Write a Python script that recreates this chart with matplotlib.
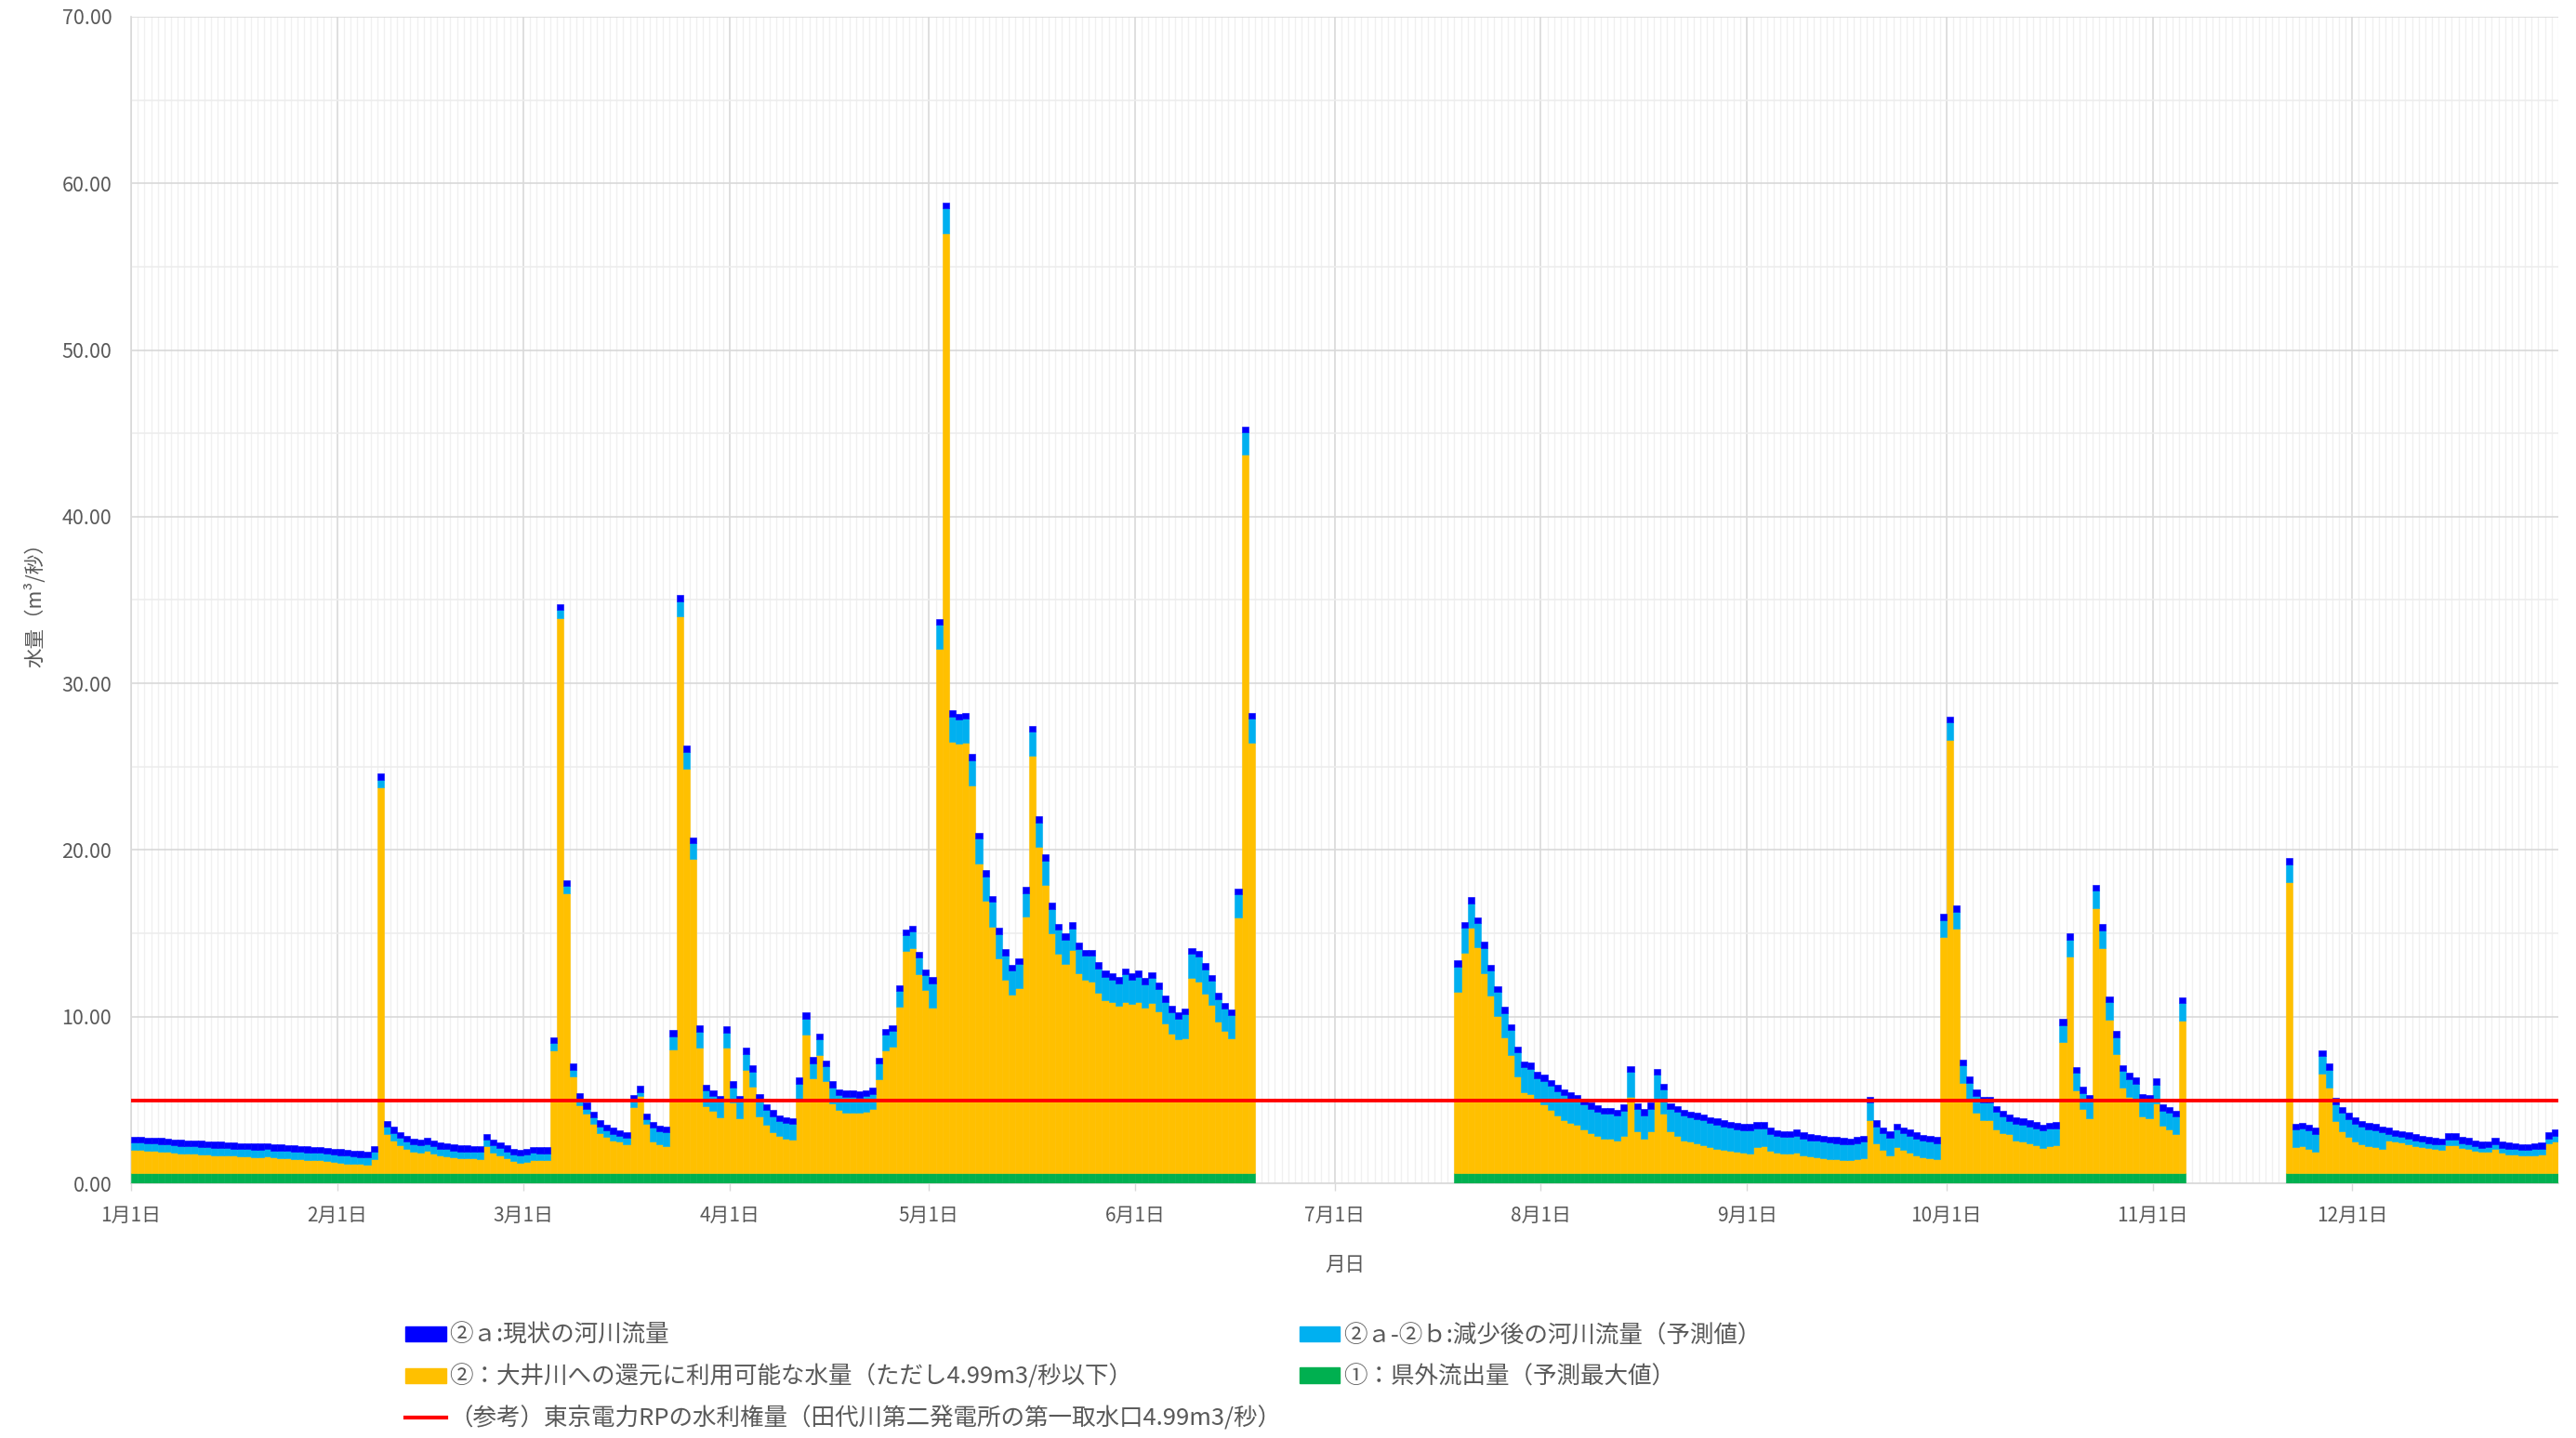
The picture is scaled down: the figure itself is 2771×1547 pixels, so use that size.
import numpy as np
import pandas as pd
import matplotlib
matplotlib.use("Agg")
import matplotlib.pyplot as plt
from matplotlib.patches import Patch
from matplotlib.lines import Line2D

plt.rcParams['font.family'] = ['Noto Sans CJK JP', 'DejaVu Sans']

# ---- data (m3/s) ----
# top of the whole stack (②a) and top of the orange part, per day
p1_start = '2023-01-01'   # 1/1 - 6/17
p1_total = [
    2.81, 2.79, 2.75, 2.74, 2.72, 2.68, 2.64, 2.60, 2.58, 2.57, 2.55, 2.51, 2.49, 2.49, 2.47, 2.45,
    2.42, 2.40, 2.38, 2.38, 2.40, 2.34, 2.32, 2.29, 2.27, 2.23, 2.21, 2.19, 2.18, 2.12, 2.08,
    2.04, 2.01, 1.97, 1.93, 1.90, 2.23, 24.58, 3.75, 3.38, 3.09, 2.87, 2.68, 2.63, 2.72, 2.59, 2.44,
    2.41, 2.32, 2.28, 2.28, 2.26, 2.23, 2.97, 2.63, 2.46, 2.28, 2.09, 2.03,
    2.07, 2.18, 2.16, 2.16, 8.76, 34.75, 18.20, 7.18, 5.43, 4.85, 4.30, 3.79, 3.52, 3.33, 3.20, 3.09,
    5.32, 5.84, 4.20, 3.70, 3.48, 3.42, 9.18, 35.30, 26.25, 20.77, 9.46, 5.93, 5.59, 5.27, 9.42,
    6.11, 5.25, 8.12, 7.08, 5.37, 4.77, 4.38, 4.10, 3.97, 3.92, 6.34, 10.24, 7.56, 9.00, 7.38, 6.11,
    5.65, 5.56, 5.56, 5.52, 5.59, 5.74, 7.54, 9.27, 9.50, 11.88, 15.23, 15.45, 13.89, 12.85,
    12.38, 33.87, 58.85, 28.37, 28.19, 28.25, 25.75, 21.03, 18.78, 17.24, 15.32, 14.05, 13.13, 13.50,
    17.79, 27.45, 22.02, 19.73, 16.82, 15.57, 15.00, 15.67, 14.42, 14.00, 14.00, 13.25, 12.75, 12.60,
    12.38, 12.90, 12.60,
    12.75, 12.30, 12.66, 12.04, 11.25, 10.63, 10.25, 10.50, 14.13, 13.95, 13.20, 12.50, 11.43, 10.83,
    10.45, 17.69, 45.40, 28.25,
]
p1_orange_top = [
    2.01, 1.99, 1.95, 1.94, 1.92, 1.88, 1.84, 1.80, 1.78, 1.77, 1.75, 1.71, 1.69, 1.69, 1.67, 1.65,
    1.62, 1.60, 1.58, 1.58, 1.60, 1.54, 1.52, 1.49, 1.47, 1.43, 1.41, 1.39, 1.38, 1.32, 1.28,
    1.22, 1.20, 1.17, 1.15, 1.13, 1.45, 23.78, 2.96, 2.58, 2.31, 2.08, 1.90, 1.85, 1.93, 1.80, 1.66,
    1.62, 1.54, 1.50, 1.50, 1.48, 1.45, 2.23, 1.85, 1.68, 1.50, 1.32, 1.25,
    1.30, 1.40, 1.38, 1.38, 7.98, 33.90, 17.40, 6.39, 4.68, 4.17, 3.55, 3.01, 2.77, 2.59, 2.49, 2.36,
    4.59, 5.22, 3.57, 2.52, 2.34, 2.25, 8.01, 34.00, 24.90, 19.47, 8.16, 4.63, 4.35, 3.97, 8.12,
    4.85, 3.92, 6.80, 5.78, 4.03, 3.51, 3.05, 2.86, 2.68, 2.64, 5.09, 8.90, 6.30, 7.70, 6.12, 4.82,
    4.38, 4.26, 4.26, 4.22, 4.30, 4.48, 6.24, 7.97, 8.20, 10.58, 13.92, 14.10, 12.57, 11.60,
    10.56, 32.06, 57.00, 26.52, 26.38, 26.44, 23.89, 19.19, 16.94, 15.40, 13.50, 12.20, 11.32, 11.72,
    16.00, 25.65, 20.18, 17.92, 15.00, 13.75, 13.15, 14.00, 12.60, 12.20, 12.10, 11.45, 11.00, 10.90,
    10.66, 10.90, 10.78,
    10.90, 10.53, 10.84, 10.34, 9.60, 8.98, 8.63, 8.70, 12.35, 12.10, 11.40, 10.70, 9.72, 9.15,
    8.70, 15.95, 43.70, 26.44,
]

p2_start = '2023-07-19'   # 7/19 - 11/4
p2_total = [
    13.37, 15.69, 17.16, 15.97, 14.48, 13.13, 11.84, 10.58, 9.56, 8.22, 7.32, 7.23, 6.67,
    6.52, 6.21, 5.89, 5.65, 5.46, 5.32, 5.09, 4.85, 4.67, 4.54, 4.54, 4.41, 4.72, 7.05, 4.82, 4.44,
    4.85, 6.86, 5.99, 4.82, 4.63, 4.41, 4.30, 4.22, 4.13, 3.98, 3.89, 3.79, 3.70, 3.60, 3.55,
    3.55, 3.66, 3.66, 3.32, 3.18, 3.14, 3.14, 3.23, 3.05, 2.95, 2.92, 2.86, 2.81, 2.77, 2.73, 2.68,
    2.77, 2.86, 5.19, 3.79, 3.36, 3.10, 3.57, 3.36, 3.23, 3.05, 2.92, 2.86, 2.77, 16.15,
    28.00, 16.67, 7.42, 6.40, 5.61, 5.19, 5.19, 4.63, 4.35, 4.12, 3.94, 3.89, 3.79, 3.66, 3.52, 3.64,
    3.66, 9.87, 15.00, 6.99, 5.78, 5.32, 17.92, 15.54, 11.23, 9.14, 7.10, 6.62, 6.34, 5.37, 5.28,
    6.30, 4.72, 4.59, 4.35, 11.18,
]
p2_orange_top = [
    11.50, 13.83, 15.32, 14.14, 12.62, 11.28, 10.02, 8.77, 7.70, 6.40, 5.47, 5.37, 5.00,
    4.72, 4.39, 4.07, 3.79, 3.60, 3.51, 3.23, 2.99, 2.86, 2.68, 2.68, 2.58, 2.86, 5.19, 3.14, 2.68,
    3.14, 5.00, 4.17, 3.14, 2.86, 2.58, 2.49, 2.40, 2.30, 2.17, 2.06, 1.99, 1.93, 1.88, 1.84,
    1.80, 2.15, 2.21, 1.93, 1.84, 1.78, 1.78, 1.84, 1.66, 1.60, 1.56, 1.51, 1.47, 1.44, 1.41, 1.37,
    1.47, 1.51, 3.79, 2.40, 1.99, 1.70, 2.17, 1.99, 1.84, 1.66, 1.56, 1.51, 1.47, 14.76,
    26.60, 15.26, 6.02, 5.00, 4.26, 3.79, 3.79, 3.23, 2.99, 2.95, 2.55, 2.50, 2.40, 2.30, 2.12, 2.25,
    2.27, 8.48, 13.59, 5.59, 4.44, 3.92, 16.52, 14.10, 9.83, 7.75, 5.74, 5.19, 5.00, 4.01, 3.89,
    4.82, 3.46, 3.23, 2.95, 9.74,
]

p3_start = '2023-11-21'   # 11/21 - 12/31
p3_total = [
    19.50, 3.57, 3.64, 3.52, 3.33, 8.00, 7.17, 5.13, 4.59, 4.22,
    3.94, 3.75, 3.60, 3.55, 3.42, 3.33, 3.20, 3.14, 3.05, 2.95, 2.86, 2.77, 2.73, 2.68, 3.01, 2.99,
    2.77, 2.71, 2.58, 2.49, 2.53, 2.73, 2.49, 2.43, 2.40, 2.36, 2.36, 2.40, 2.43, 3.05, 3.23,
]
p3_orange_top = [
    18.05, 2.15, 2.21, 2.06, 1.89, 6.58, 5.74, 3.73, 3.14, 2.81,
    2.53, 2.34, 2.21, 2.17, 2.06, 2.58, 2.49, 2.45, 2.34, 2.25, 2.17, 2.12, 2.08, 2.03, 2.30, 2.27,
    2.12, 2.08, 1.93, 1.89, 1.91, 2.06, 1.84, 1.75, 1.73, 1.70, 1.68, 1.70, 1.73, 2.40, 2.49,
]

green_value = 0.63      # ① 県外流出量（予測最大値）
dark_band = 0.36        # ②a band on top
water_right = 4.99      # 東京電力RP 水利権量

month_starts = ['2023-%02d-01' % m for m in range(1, 13)]
month_labels = ['%d月1日' % m for m in range(1, 13)]

labels = ['②ａ:現状の河川流量',
          '②：大井川への還元に利用可能な水量（ただし4.99m3/秒以下）',
          '（参考）東京電力RPの水利権量（田代川第二発電所の第一取水口4.99m3/秒）',
          '②ａ-②ｂ:減少後の河川流量（予測値）',
          '①：県外流出量（予測最大値）']

C_DARK = '#0000FF'
C_LIGHT = '#00B0F0'
C_ORANGE = '#FFC000'
C_GREEN = '#00B050'
C_TEXT = '#595959'


def day_index(date):
    return pd.Timestamp(date).dayofyear - 1


def build():
    xs, tot, otop = [], [], []
    for start, t, o in [(p1_start, p1_total, p1_orange_top),
                        (p2_start, p2_total, p2_orange_top),
                        (p3_start, p3_total, p3_orange_top)]:
        d0 = day_index(start)
        xs.append(np.arange(d0, d0 + len(t)) + 0.5)
        tot.append(np.array(t, dtype=float))
        otop.append(np.array(o, dtype=float))
    return np.concatenate(xs), np.concatenate(tot), np.concatenate(otop)


def main():
    x, total, orange_top = build()
    green = np.full(len(x), green_value)
    orange = orange_top - green
    light = np.clip(total - dark_band - orange_top, 0, None)
    dark = total - orange_top - light

    fig = plt.figure(figsize=(27.71, 15.47), dpi=100)
    ax = fig.add_axes([0.0509, 0.1771, 0.9422, 0.8113])

    kw = dict(width=1.0, linewidth=0.4, zorder=3)
    ax.bar(x, green, color=C_GREEN, edgecolor=C_GREEN, **kw)
    ax.bar(x, orange, bottom=green, color=C_ORANGE, edgecolor=C_ORANGE, **kw)
    ax.bar(x, light, bottom=orange_top, color=C_LIGHT, edgecolor=C_LIGHT, **kw)
    ax.bar(x, dark, bottom=orange_top + light, color=C_DARK, edgecolor=C_DARK, **kw)

    ax.hlines(water_right, 0, 365, color='#FF0000', linewidth=2.8, zorder=4)

    ax.set_xlim(0, 365)
    ax.set_ylim(0, 70)

    ticks = [day_index(d) for d in month_starts]
    ax.set_xticks(ticks)
    ax.set_xticklabels(month_labels)
    ax.set_xticks(np.arange(0, 366), minor=True)
    ax.set_yticks(np.arange(0, 71, 10))
    ax.set_yticks(np.arange(0, 71, 5), minor=True)
    ax.yaxis.set_major_formatter(matplotlib.ticker.FormatStrFormatter('%.2f'))

    ax.grid(which='minor', axis='x', color='#F0F0F0', linewidth=1.0)
    ax.grid(which='major', axis='x', color='#D9D9D9', linewidth=1.2)
    ax.grid(which='minor', axis='y', color='#EDEDED', linewidth=1.2)
    ax.grid(which='major', axis='y', color='#D9D9D9', linewidth=1.2)
    ax.set_axisbelow(True)

    ax.tick_params(axis='x', which='major', length=6, width=1, color='#D9D9D9',
                   labelsize=15, labelcolor=C_TEXT, pad=11)
    ax.tick_params(axis='y', which='major', length=0, labelsize=15.5, labelcolor=C_TEXT, pad=15)
    ax.tick_params(which='minor', length=0)

    for side in ['top', 'right']:
        ax.spines[side].set_visible(False)
    ax.spines['left'].set_color('#D9D9D9')
    ax.spines['bottom'].set_color('#D9D9D9')
    ax.spines['left'].set_linewidth(1.2)
    ax.spines['bottom'].set_linewidth(1.2)

    ax.set_ylabel('水量（m³/秒）', fontsize=15.5, color=C_TEXT)
    ax.yaxis.set_label_coords(-0.0352, 0.5)
    ax.set_xlabel('月日', fontsize=15.5, color=C_TEXT)
    ax.xaxis.set_label_coords(0.5, -0.0614)

    handles = [Patch(color=C_DARK), Patch(color=C_ORANGE),
               Line2D([], [], color='#FF0000', linewidth=3),
               Patch(color=C_LIGHT), Patch(color=C_GREEN)]
    fig.legend(handles, labels, loc='upper left', bbox_to_anchor=(0.151, 0.091),
               ncol=2, frameon=False, fontsize=18.4, labelcolor=C_TEXT,
               handlelength=1.7, handleheight=0.6, handletextpad=0.15,
               columnspacing=0.75, labelspacing=0.72, borderpad=0.2)

    fig.savefig('out.png', dpi=100)


if __name__ == '__main__':
    main()
